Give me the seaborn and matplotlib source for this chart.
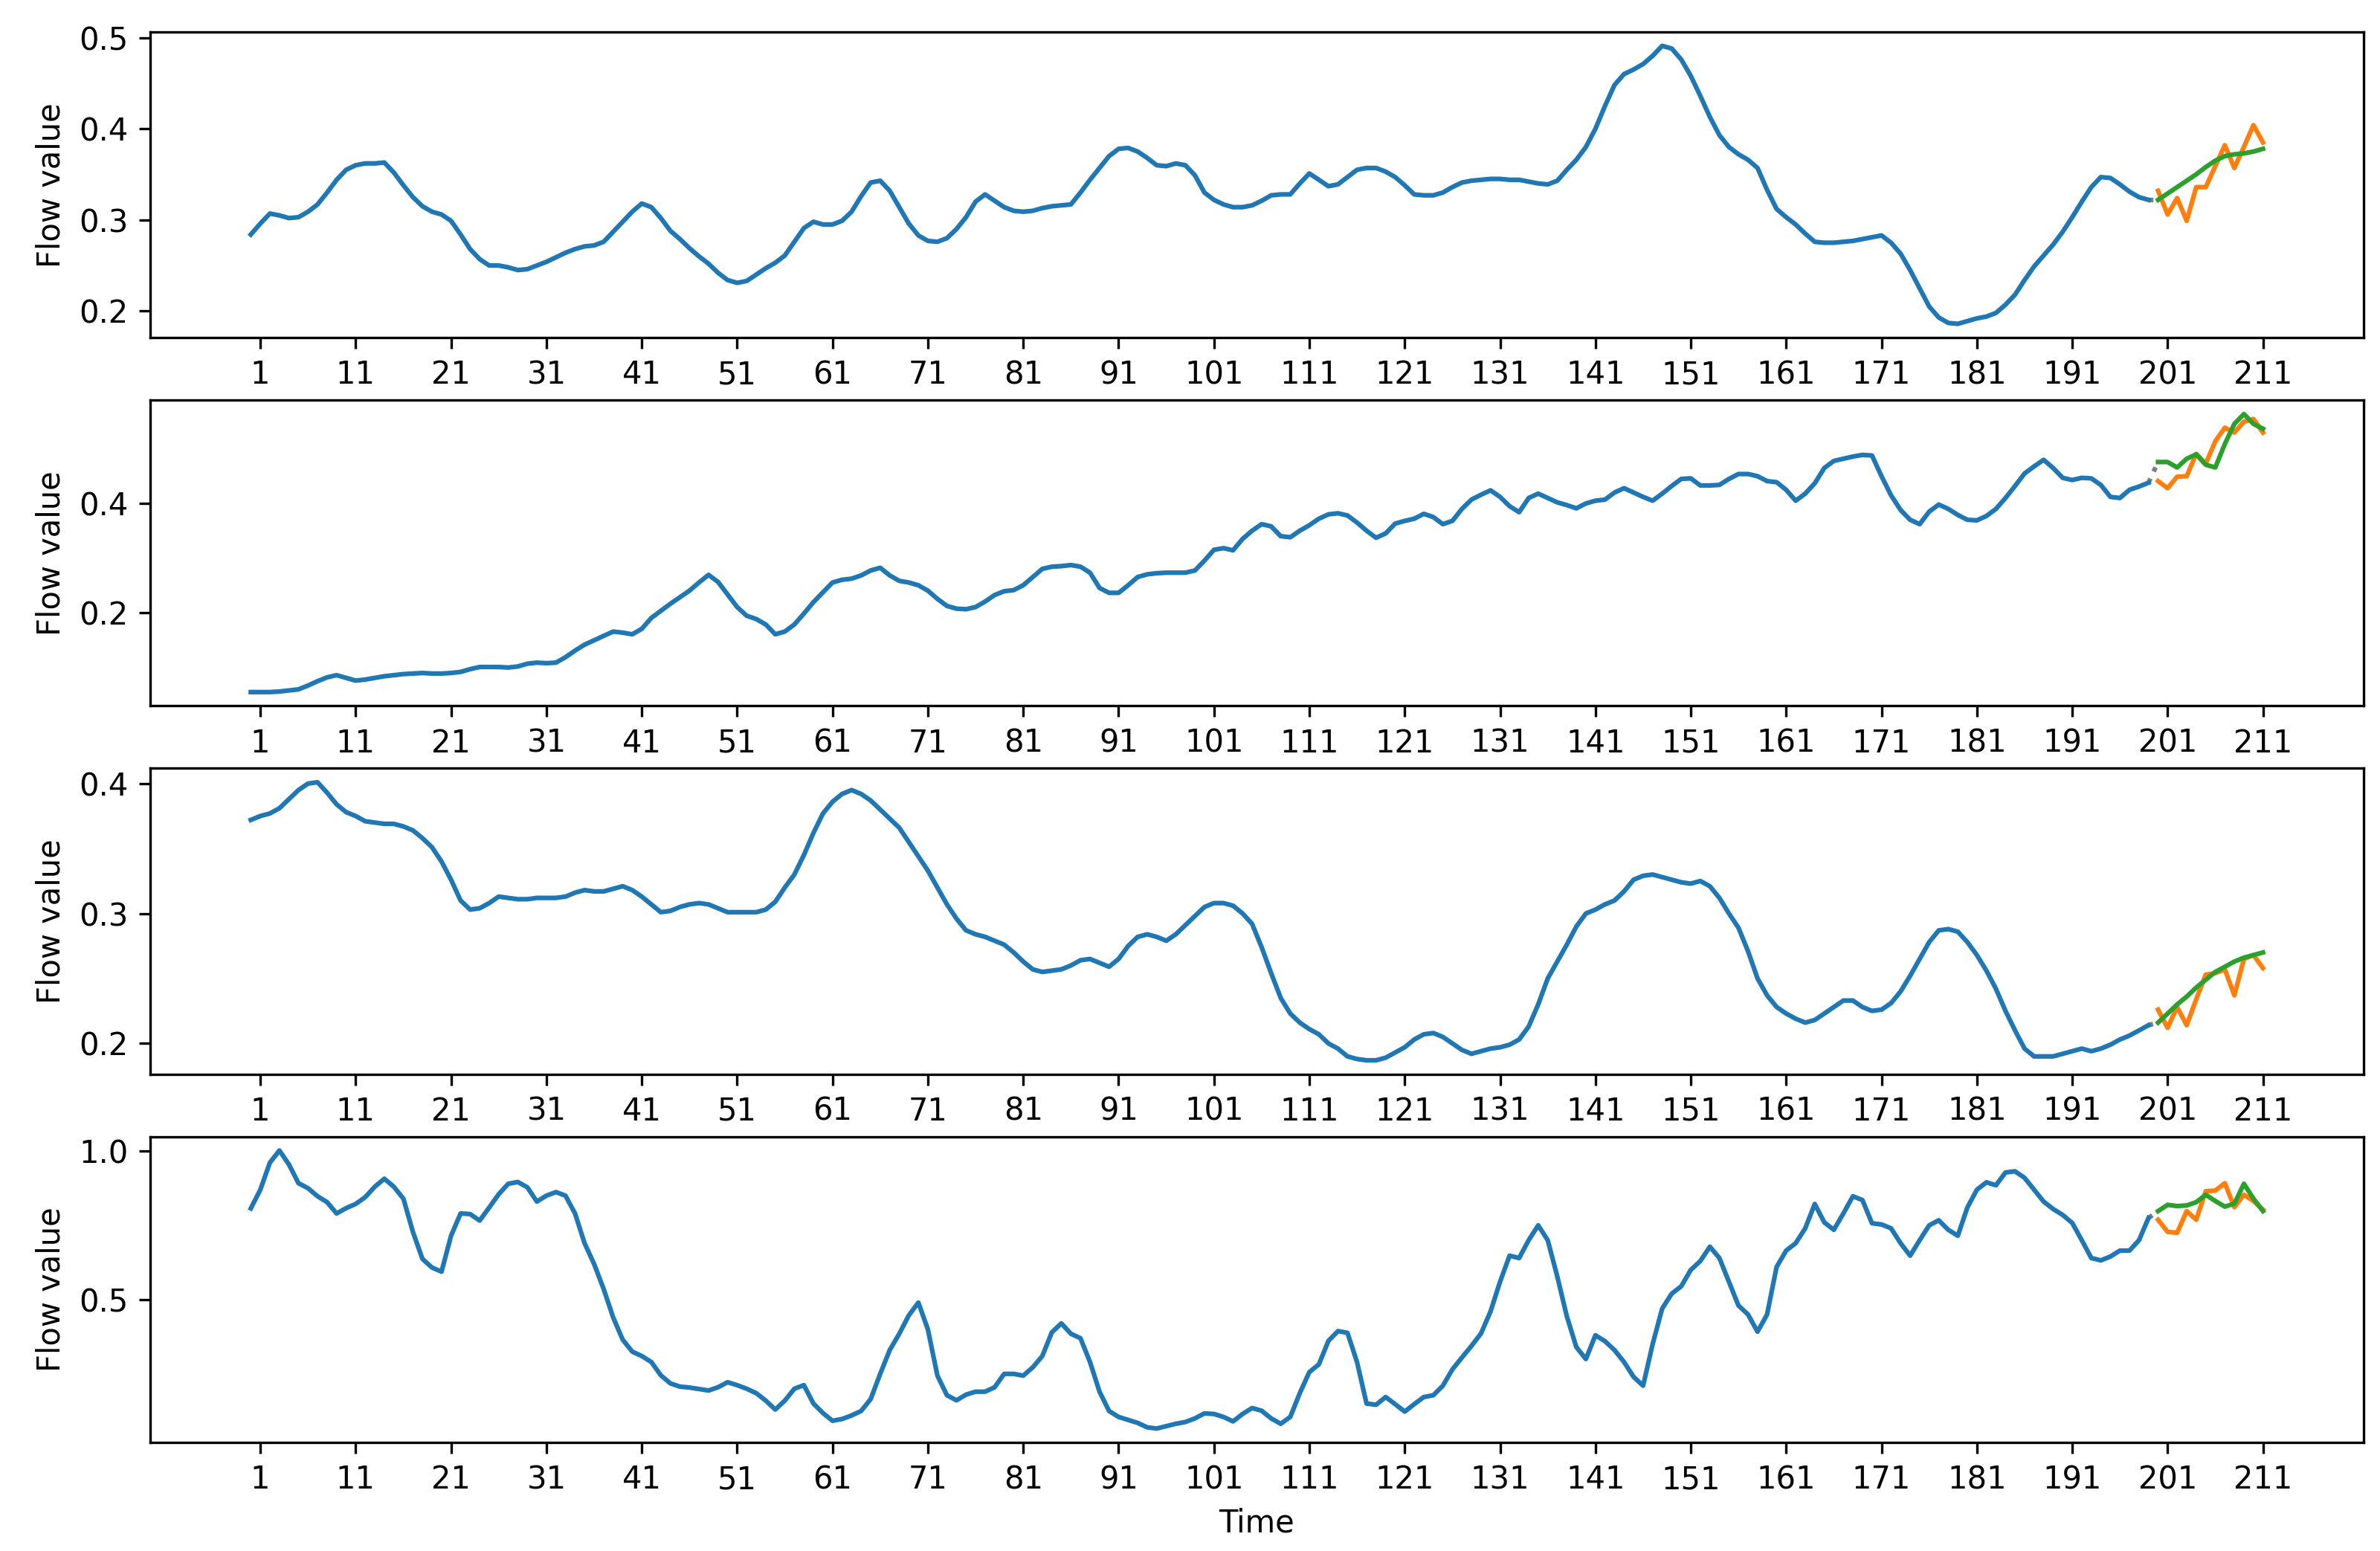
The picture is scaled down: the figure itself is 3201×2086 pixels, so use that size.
import numpy as np
import matplotlib
matplotlib.use("Agg")
import matplotlib.pyplot as plt
import seaborn as sns

# time axis: observed history 0..199, forecast window 200..211
time_hist = list(range(0, 200))
time_fore = list(range(200, 212))
tick_pos = list(range(1, 212, 10))

# node 1
hist_1 = [
    0.284, 0.296, 0.307, 0.305, 0.302, 0.303, 0.309, 0.317, 0.330, 0.344,
    0.355, 0.360, 0.362, 0.362, 0.363, 0.352, 0.338, 0.325, 0.315, 0.309,
    0.306, 0.299, 0.284, 0.268, 0.257, 0.250, 0.250, 0.248, 0.245, 0.246,
    0.250, 0.254, 0.259, 0.264, 0.268, 0.271, 0.272, 0.276, 0.287, 0.298,
    0.309, 0.318, 0.314, 0.302, 0.288, 0.279, 0.269, 0.260, 0.252, 0.242,
    0.234, 0.231, 0.233, 0.240, 0.247, 0.253, 0.261, 0.276, 0.291, 0.298,
    0.295, 0.295, 0.299, 0.309, 0.326, 0.341, 0.343, 0.332, 0.314, 0.296,
    0.283, 0.277, 0.276, 0.280, 0.290, 0.303, 0.320, 0.328, 0.321, 0.314,
    0.310, 0.309, 0.310, 0.313, 0.315, 0.316, 0.317, 0.330, 0.344, 0.357,
    0.370, 0.378, 0.379, 0.375, 0.368, 0.360, 0.359, 0.362, 0.360, 0.349,
    0.330, 0.322, 0.317, 0.314, 0.314, 0.316, 0.321, 0.327, 0.328, 0.328,
    0.340, 0.351, 0.344, 0.337, 0.339, 0.347, 0.355, 0.357, 0.357, 0.353,
    0.347, 0.338, 0.328, 0.327, 0.327, 0.330, 0.336, 0.341, 0.343, 0.344,
    0.345, 0.345, 0.344, 0.344, 0.342, 0.340, 0.339, 0.343, 0.355, 0.366,
    0.380, 0.400, 0.425, 0.448, 0.460, 0.465, 0.471, 0.480, 0.491, 0.488,
    0.476, 0.458, 0.436, 0.413, 0.393, 0.380, 0.372, 0.366, 0.357, 0.333,
    0.312, 0.303, 0.295, 0.285, 0.276, 0.275, 0.275, 0.276, 0.277, 0.279,
    0.281, 0.283, 0.275, 0.263, 0.245, 0.225, 0.205, 0.193, 0.187, 0.186,
    0.189, 0.192, 0.194, 0.198, 0.207, 0.218, 0.234, 0.249, 0.261, 0.273,
    0.287, 0.303, 0.320, 0.336, 0.347, 0.346, 0.339, 0.331, 0.325, 0.322,
]
true_1 = [0.332, 0.306, 0.324, 0.299, 0.336, 0.336, 0.359, 0.382, 0.357, 0.380, 0.404, 0.385]
pred_1 = [0.322, 0.329, 0.336, 0.343, 0.350, 0.358, 0.365, 0.370, 0.372, 0.373, 0.375, 0.378]

# node 2
hist_2 = [
    0.054, 0.054, 0.054, 0.055, 0.057, 0.059, 0.066, 0.074, 0.081, 0.085,
    0.080, 0.075, 0.077, 0.080, 0.083, 0.085, 0.087, 0.088, 0.089, 0.088,
    0.088, 0.089, 0.091, 0.096, 0.100, 0.100, 0.100, 0.099, 0.101, 0.106,
    0.108, 0.107, 0.108, 0.118, 0.130, 0.141, 0.149, 0.157, 0.165, 0.163,
    0.160, 0.170, 0.190, 0.203, 0.216, 0.228, 0.240, 0.255, 0.269, 0.256,
    0.233, 0.210, 0.194, 0.188, 0.178, 0.160, 0.165, 0.178, 0.198, 0.219,
    0.237, 0.255, 0.260, 0.262, 0.268, 0.277, 0.282, 0.268, 0.258, 0.255,
    0.250, 0.240, 0.225, 0.212, 0.207, 0.206, 0.210, 0.220, 0.232, 0.239,
    0.241, 0.250, 0.265, 0.280, 0.284, 0.285, 0.287, 0.284, 0.273, 0.245,
    0.236, 0.236, 0.250, 0.265, 0.270, 0.272, 0.273, 0.273, 0.273, 0.277,
    0.295, 0.315, 0.318, 0.314, 0.335, 0.350, 0.362, 0.358, 0.340, 0.338,
    0.350, 0.360, 0.372, 0.380, 0.382, 0.378, 0.365, 0.350, 0.337, 0.345,
    0.363, 0.368, 0.372, 0.381, 0.375, 0.362, 0.368, 0.390, 0.407, 0.416,
    0.424, 0.412, 0.395, 0.384, 0.410, 0.418, 0.410, 0.402, 0.397, 0.391,
    0.400, 0.405, 0.407, 0.420, 0.428, 0.420, 0.412, 0.405, 0.418, 0.432,
    0.445, 0.446, 0.433, 0.433, 0.434, 0.445, 0.454, 0.454, 0.450, 0.441,
    0.439, 0.425, 0.405, 0.418, 0.437, 0.465, 0.478, 0.482, 0.486, 0.489,
    0.488, 0.450, 0.415, 0.388, 0.370, 0.362, 0.385, 0.398, 0.390, 0.379,
    0.370, 0.369, 0.377, 0.390, 0.410, 0.432, 0.455, 0.468, 0.480, 0.465,
    0.447, 0.443, 0.447, 0.446, 0.434, 0.412, 0.410, 0.425, 0.431, 0.438,
]
true_2 = [0.441, 0.428, 0.449, 0.450, 0.491, 0.473, 0.514, 0.539, 0.530, 0.550, 0.555, 0.530]
pred_2 = [0.476, 0.476, 0.466, 0.482, 0.490, 0.471, 0.466, 0.509, 0.546, 0.564, 0.546, 0.537]

# node 3
hist_3 = [
    0.372, 0.375, 0.377, 0.381, 0.388, 0.395, 0.400, 0.401, 0.393, 0.384,
    0.378, 0.375, 0.371, 0.370, 0.369, 0.369, 0.367, 0.364, 0.358, 0.351,
    0.340, 0.326, 0.310, 0.303, 0.304, 0.308, 0.313, 0.312, 0.311, 0.311,
    0.312, 0.312, 0.312, 0.313, 0.316, 0.318, 0.317, 0.317, 0.319, 0.321,
    0.318, 0.313, 0.307, 0.301, 0.302, 0.305, 0.307, 0.308, 0.307, 0.304,
    0.301, 0.301, 0.301, 0.301, 0.303, 0.309, 0.320, 0.330, 0.345, 0.362,
    0.377, 0.386, 0.392, 0.395, 0.392, 0.387, 0.380, 0.373, 0.366, 0.355,
    0.344, 0.333, 0.320, 0.307, 0.296, 0.287, 0.284, 0.282, 0.279, 0.276,
    0.270, 0.263, 0.257, 0.255, 0.256, 0.257, 0.260, 0.264, 0.265, 0.262,
    0.259, 0.265, 0.275, 0.282, 0.284, 0.282, 0.279, 0.284, 0.291, 0.298,
    0.305, 0.308, 0.308, 0.306, 0.300, 0.292, 0.274, 0.254, 0.235, 0.223,
    0.216, 0.211, 0.207, 0.200, 0.196, 0.190, 0.188, 0.187, 0.187, 0.189,
    0.193, 0.197, 0.203, 0.207, 0.208, 0.205, 0.200, 0.195, 0.192, 0.194,
    0.196, 0.197, 0.199, 0.203, 0.213, 0.230, 0.250, 0.263, 0.276, 0.290,
    0.300, 0.303, 0.307, 0.310, 0.317, 0.326, 0.329, 0.330, 0.328, 0.326,
    0.324, 0.323, 0.325, 0.321, 0.312, 0.300, 0.289, 0.271, 0.250, 0.237,
    0.228, 0.223, 0.219, 0.216, 0.218, 0.223, 0.228, 0.233, 0.233, 0.228,
    0.225, 0.226, 0.231, 0.240, 0.252, 0.265, 0.278, 0.287, 0.288, 0.286,
    0.278, 0.268, 0.256, 0.242, 0.225, 0.210, 0.196, 0.190, 0.190, 0.190,
    0.192, 0.194, 0.196, 0.194, 0.196, 0.199, 0.203, 0.206, 0.210, 0.214,
]
true_3 = [0.226, 0.212, 0.228, 0.214, 0.234, 0.253, 0.254, 0.257, 0.237, 0.265, 0.268, 0.258]
pred_3 = [0.216, 0.223, 0.230, 0.236, 0.243, 0.249, 0.255, 0.259, 0.263, 0.266, 0.268, 0.270]

# node 4
hist_4 = [
    0.807, 0.870, 0.961, 1.002, 0.955, 0.892, 0.875, 0.848, 0.828, 0.790,
    0.808, 0.822, 0.845, 0.880, 0.907, 0.880, 0.840, 0.728, 0.637, 0.608,
    0.594, 0.715, 0.790, 0.788, 0.766, 0.810, 0.855, 0.890, 0.896, 0.878,
    0.830, 0.850, 0.862, 0.850, 0.790, 0.690, 0.620, 0.536, 0.440, 0.365,
    0.325, 0.310, 0.290, 0.245, 0.218, 0.207, 0.204, 0.199, 0.194, 0.205,
    0.222, 0.212, 0.200, 0.185, 0.160, 0.130, 0.160, 0.200, 0.212, 0.150,
    0.118, 0.092, 0.098, 0.110, 0.125, 0.165, 0.250, 0.330, 0.385, 0.447,
    0.490, 0.400, 0.244, 0.178, 0.161, 0.180, 0.190, 0.190, 0.205, 0.250,
    0.250, 0.244, 0.272, 0.310, 0.390, 0.420, 0.385, 0.370, 0.290, 0.190,
    0.125, 0.105, 0.095, 0.085, 0.070, 0.066, 0.074, 0.082, 0.088, 0.100,
    0.117, 0.115, 0.105, 0.090, 0.115, 0.135, 0.126, 0.100, 0.082, 0.105,
    0.185, 0.256, 0.282, 0.361, 0.394, 0.388, 0.290, 0.150, 0.146, 0.172,
    0.148, 0.123, 0.148, 0.172, 0.178, 0.210, 0.265, 0.305, 0.344, 0.386,
    0.460, 0.560, 0.648, 0.640, 0.700, 0.750, 0.700, 0.578, 0.444, 0.340,
    0.300, 0.380, 0.360, 0.330, 0.290, 0.240, 0.210, 0.350, 0.470, 0.520,
    0.545, 0.600, 0.630, 0.678, 0.640, 0.560, 0.480, 0.450, 0.392, 0.450,
    0.610, 0.665, 0.690, 0.740, 0.822, 0.760, 0.735, 0.790, 0.848, 0.835,
    0.757, 0.753, 0.740, 0.690, 0.648, 0.700, 0.750, 0.767, 0.735, 0.715,
    0.810, 0.870, 0.895, 0.885, 0.928, 0.932, 0.910, 0.870, 0.830, 0.805,
    0.785, 0.758, 0.700, 0.640, 0.632, 0.645, 0.665, 0.665, 0.700, 0.775,
]
true_4 = [0.769, 0.728, 0.725, 0.798, 0.769, 0.865, 0.867, 0.892, 0.811, 0.853, 0.832, 0.803]
pred_4 = [0.798, 0.819, 0.815, 0.817, 0.828, 0.853, 0.832, 0.813, 0.823, 0.890, 0.840, 0.798]

hist_all = [hist_1, hist_2, hist_3, hist_4]
true_all = [true_1, true_2, true_3, true_4]
pred_all = [pred_1, pred_2, pred_3, pred_4]

fig, axes = plt.subplots(4, 1, figsize=(10.67, 6.9535), dpi=300)
fig.subplots_adjust(left=0.0631, right=0.9931, top=0.9794, bottom=0.070, hspace=0.204)

for ax, hist, true, pred in zip(axes, hist_all, true_all, pred_all):
    # dotted link from last observed value to first prediction
    sns.lineplot(x=[time_hist[-1], time_fore[0]], y=[hist[-1], pred[0]], ax=ax,
                 color="tab:gray", linestyle=":")
    sns.lineplot(x=time_hist, y=hist, ax=ax, color="tab:blue")
    sns.lineplot(x=time_fore, y=true, ax=ax, color="tab:orange")
    sns.lineplot(x=time_fore, y=pred, ax=ax, color="tab:green")
    ax.set_xticks(tick_pos)
    ax.set_xticklabels([str(t) for t in tick_pos])
    ax.set_ylabel("Flow value")
    ax.set_xlabel("")

axes[-1].set_xlabel("Time")

plt.savefig("out.png", dpi=300)
plt.close()
